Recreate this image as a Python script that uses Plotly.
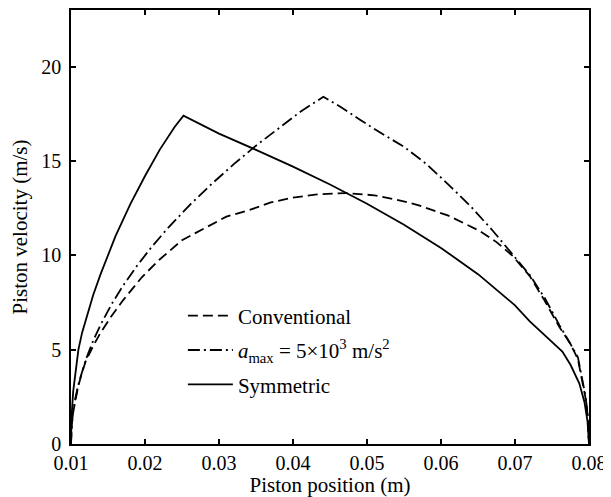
import plotly.graph_objects as go

# Conventional (dashed)
conv_x = [0.0100, 0.0101, 0.0103, 0.0106, 0.0110, 0.0115, 0.0120, 0.0130, 0.0140, 0.0155,
          0.0170, 0.0196, 0.0219, 0.0250, 0.0277, 0.0310, 0.0341, 0.0370, 0.0399, 0.0430,
          0.0472, 0.0510, 0.0540, 0.0570, 0.0610, 0.0652, 0.0675, 0.0697, 0.0720, 0.0740,
          0.0760, 0.0775, 0.0785, 0.0790, 0.0795, 0.0798, 0.0800]
conv_v = [0.0, 1.0, 1.7, 2.4, 3.1, 3.8, 4.4, 5.2, 5.9, 6.8,
          7.6, 8.85, 9.75, 10.8, 11.35, 12.05, 12.4, 12.8, 13.05, 13.22,
          13.3, 13.18, 12.95, 12.65, 12.1, 11.3, 10.7, 9.96, 8.9, 7.6,
          6.2, 5.3, 4.5, 3.5, 2.5, 1.6, 0.0]

# a_max = 5e3 m/s^2 (dash-dot)
amax_x = [0.0100, 0.0101, 0.0103, 0.0106, 0.0110, 0.0115, 0.0120, 0.0130, 0.0140, 0.0155,
          0.0170, 0.0190, 0.0210, 0.0230, 0.0260, 0.0290, 0.0320, 0.0350, 0.0380, 0.0410,
          0.0441, 0.0465, 0.0490, 0.0520, 0.0550, 0.0580, 0.0610, 0.0640, 0.0670, 0.0697,
          0.0720, 0.0740, 0.0760, 0.0775, 0.0785, 0.0790, 0.0795, 0.0798, 0.0800]
amax_v = [0.0, 1.0, 1.73, 2.45, 3.16, 3.87, 4.47, 5.48, 6.32, 7.42,
          8.37, 9.49, 10.49, 11.40, 12.65, 13.78, 14.83, 15.81, 16.73, 17.61,
          18.40, 17.85, 17.2, 16.45, 15.75, 14.85, 13.75, 12.6, 11.3, 10.0,
          8.95, 7.75, 6.3, 5.3, 4.6, 3.6, 2.6, 1.7, 0.0]

# Symmetric (solid)
sym_x = [0.0100, 0.0101, 0.0103, 0.0106, 0.0110, 0.0115, 0.0120, 0.0130, 0.0140, 0.0150,
         0.0160, 0.0180, 0.0200, 0.0220, 0.0240, 0.0252, 0.0300, 0.0350, 0.0400, 0.0450,
         0.0500, 0.0550, 0.0600, 0.0650, 0.0700, 0.0720, 0.0740, 0.0764, 0.0775, 0.0787,
         0.0794, 0.0798, 0.0800]
sym_v = [0.0, 1.6, 2.8, 3.8, 5.0, 5.9, 6.6, 7.9, 9.0, 10.0,
         11.0, 12.7, 14.2, 15.6, 16.8, 17.4, 16.45, 15.59, 14.70, 13.75,
         12.73, 11.62, 10.39, 9.0, 7.35, 6.5, 5.75, 4.9, 4.2, 3.2,
         2.2, 1.2, 0.0]

x_ticks = [0.01, 0.02, 0.03, 0.04, 0.05, 0.06, 0.07, 0.08]
y_ticks = [0, 5, 10, 15, 20]

FONT = "Liberation Serif"

fig = go.Figure()
fig.add_trace(go.Scatter(x=conv_x, y=conv_v, mode="lines", name="Conventional",
                         legendgroup="a",
                         line=dict(color="black", width=1.8, dash="10px,5px")))
fig.add_trace(go.Scatter(x=amax_x, y=amax_v, mode="lines",
                         name="<i>a</i><sub>max</sub> = 5×10<sup>3</sup> m/s<sup>2</sup>",
                         legendgroup="b",
                         line=dict(color="black", width=1.8, dash="12px,4px,2px,4px")))
fig.add_trace(go.Scatter(x=sym_x, y=sym_v, mode="lines", name="Symmetric",
                         legendgroup="c",
                         line=dict(color="black", width=1.8)))

axis_common = dict(showline=True, linecolor="black", linewidth=1.5, mirror="ticks",
                   ticks="inside", ticklen=5, tickwidth=1.5, tickcolor="black",
                   showgrid=False, zeroline=False, automargin=False,
                   tickfont=dict(family=FONT, size=20, color="black"))

fig.update_xaxes(range=[0.01, 0.08], tickvals=x_ticks, tickformat=".2f",
                 title=dict(text="Piston position (m)", font=dict(family=FONT, size=21, color="black"),
                            standoff=2),
                 **axis_common)
fig.update_yaxes(range=[0, 23], tickvals=y_ticks, ticklabelstandoff=4,
                 title=dict(text="Piston velocity (m/s)", font=dict(family=FONT, size=21, color="black"),
                            standoff=9),
                 **axis_common)

# the page body has an 8px margin, so the figure is sized to fill the rest of the window
fig.update_layout(
    width=603, height=489,
    margin=dict(l=63, r=22, t=2, b=53),
    paper_bgcolor="white", plot_bgcolor="white",
    font=dict(family=FONT, size=21, color="black"),
    showlegend=True,
    legend=dict(x=0.216, y=0.342, xanchor="left", yanchor="top",
                bgcolor="rgba(0,0,0,0)", borderwidth=0, itemwidth=45,
                tracegroupgap=4, font=dict(family=FONT, size=21, color="black")),
)

fig.write_html("out.html")
